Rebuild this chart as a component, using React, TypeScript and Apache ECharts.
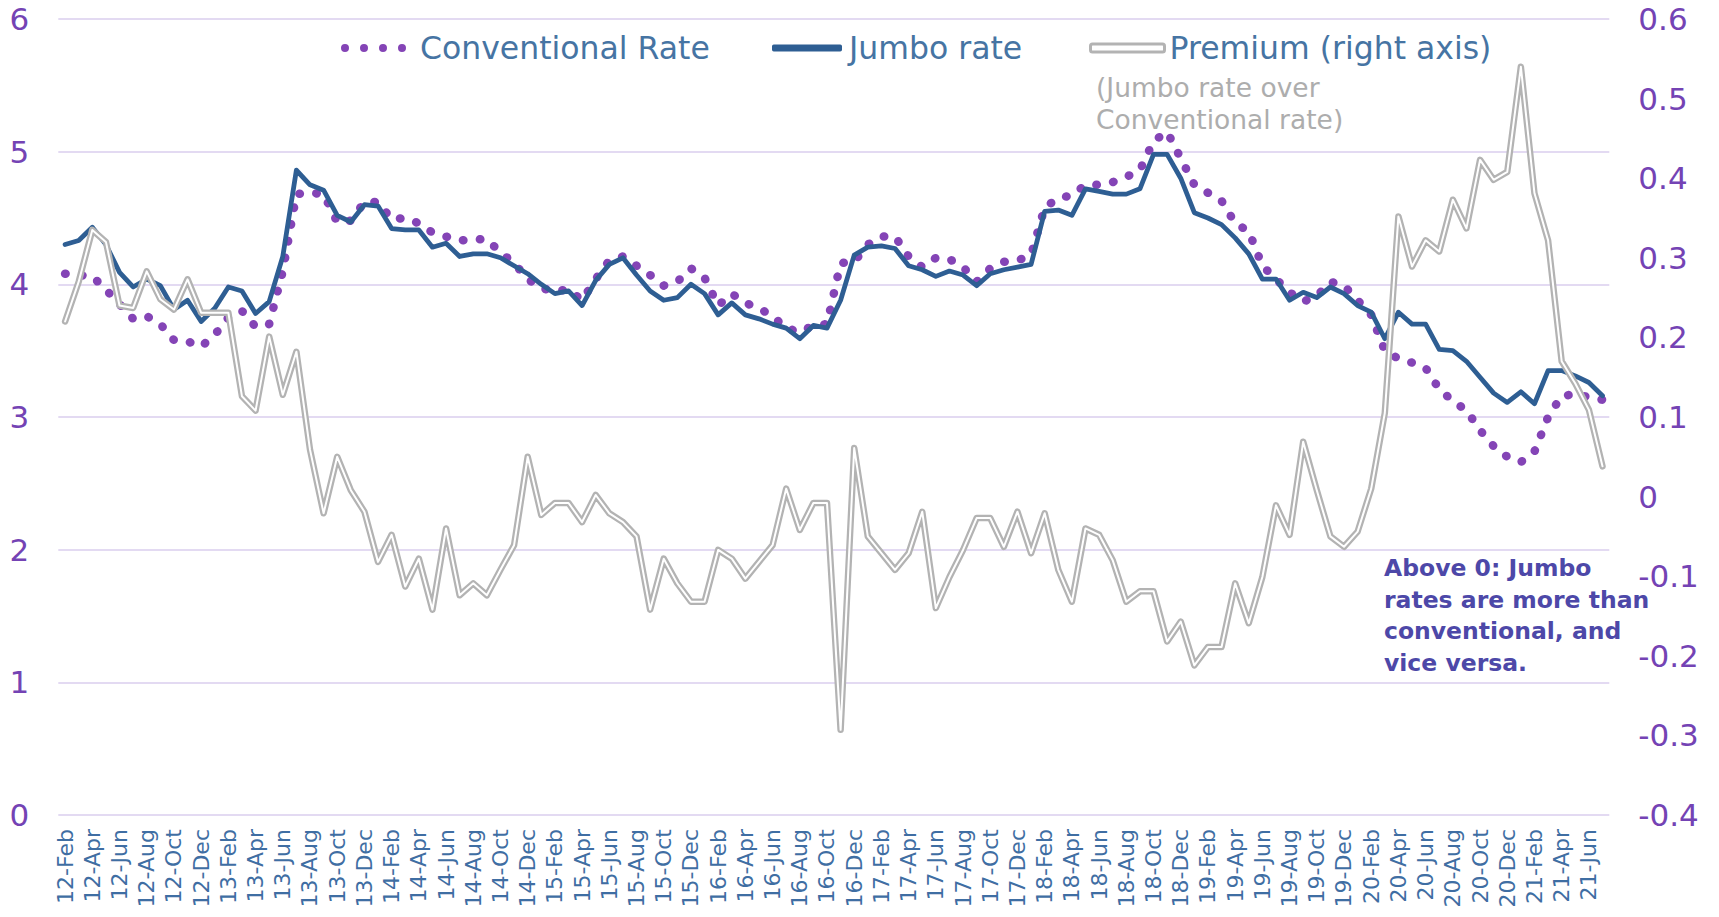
import { useEffect, useRef } from 'react';
import * as echarts from 'echarts';

const MONTH_NAMES = ['Jan', 'Feb', 'Mar', 'Apr', 'May', 'Jun', 'Jul', 'Aug', 'Sep', 'Oct', 'Nov', 'Dec'];
// Monthly categories, Feb 2012 .. Jul 2021 (labels shown as "YY-Mon")
const START_YEAR = 12;
const START_MONTH = 1; // Feb
const MONTH_COUNT = 114;
const CATEGORIES: string[] = Array.from({ length: MONTH_COUNT }, (_, i) => {
  const m = START_MONTH + i;
  return `${START_YEAR + Math.floor(m / 12)}-${MONTH_NAMES[m % 12]}`;
});

const CONVENTIONAL = [
  4.08, 4.07, 4.06, 3.96, 3.85, 3.74, 3.76, 3.70, 3.58, 3.57, 3.53, 3.62,
  3.75, 3.80, 3.68, 3.70, 4.10, 4.68, 4.69, 4.68, 4.47, 4.48, 4.62, 4.62,
  4.49, 4.50, 4.46, 4.39, 4.36, 4.33, 4.34, 4.34, 4.24, 4.16, 4.04, 3.97,
  3.95, 3.96, 3.88, 4.04, 4.18, 4.21, 4.14, 4.07, 3.99, 4.02, 4.12, 4.05,
  3.84, 3.93, 3.86, 3.82, 3.76, 3.67, 3.64, 3.69, 3.70, 4.16, 4.17, 4.30,
  4.36, 4.36, 4.21, 4.13, 4.20, 4.19, 4.13, 4.02, 4.12, 4.17, 4.18, 4.22,
  4.58, 4.65, 4.67, 4.75, 4.75, 4.77, 4.81, 4.86, 5.08, 5.15, 4.95, 4.75,
  4.69, 4.63, 4.46, 4.40, 4.14, 4.04, 3.94, 3.87, 3.91, 4.02, 3.99, 3.88,
  3.77, 3.50, 3.44, 3.41, 3.37, 3.21, 3.12, 3.05, 2.90, 2.78, 2.70, 2.66,
  2.74, 3.00, 3.16, 3.17, 3.15, 3.13,
];

const JUMBO = [
  4.30, 4.33, 4.43, 4.30, 4.09, 3.98, 4.04, 3.99, 3.81, 3.88, 3.72, 3.82,
  3.98, 3.95, 3.78, 3.87, 4.21, 4.86, 4.75, 4.71, 4.52, 4.47, 4.60, 4.59,
  4.42, 4.41, 4.41, 4.28, 4.31, 4.21, 4.23, 4.23, 4.20, 4.14, 4.08, 4.00,
  3.93, 3.95, 3.84, 4.03, 4.15, 4.20, 4.07, 3.95, 3.88, 3.90, 4.00, 3.93,
  3.77, 3.86, 3.77, 3.74, 3.70, 3.67, 3.59, 3.69, 3.67, 3.88, 4.22, 4.28,
  4.29, 4.27, 4.14, 4.11, 4.06, 4.10, 4.07, 3.99, 4.08, 4.11, 4.13, 4.15,
  4.55, 4.56, 4.52, 4.72, 4.70, 4.68, 4.68, 4.72, 4.98, 4.98, 4.80, 4.54,
  4.50, 4.45, 4.35, 4.23, 4.04, 4.04, 3.88, 3.94, 3.90, 3.98, 3.93, 3.84,
  3.79, 3.59, 3.79, 3.70, 3.70, 3.51, 3.50, 3.42, 3.30, 3.18, 3.11, 3.19,
  3.10, 3.35, 3.35, 3.31, 3.26, 3.16,
];

const PREMIUM = [
  0.220, 0.270, 0.335, 0.320, 0.240, 0.237, 0.283, 0.248, 0.235, 0.273, 0.231, 0.231,
  0.231, 0.126, 0.108, 0.201, 0.128, 0.182, 0.059, -0.021, 0.050, 0.008, -0.019, -0.082,
  -0.048, -0.113, -0.078, -0.142, -0.040, -0.124, -0.109, -0.124, -0.092, -0.061, 0.050, -0.023,
  -0.008, -0.008, -0.032, 0.002, -0.021, -0.032, -0.050, -0.142, -0.078, -0.109, -0.132, -0.132,
  -0.067, -0.078, -0.103, -0.082, -0.061, 0.010, -0.042, -0.008, -0.008, -0.293, 0.061, -0.050,
  -0.071, -0.092, -0.071, -0.019, -0.140, -0.101, -0.067, -0.027, -0.027, -0.063, -0.019, -0.071,
  -0.021, -0.092, -0.132, -0.040, -0.048, -0.080, -0.132, -0.119, -0.119, -0.182, -0.157, -0.212,
  -0.189, -0.189, -0.109, -0.159, -0.101, -0.011, -0.048, 0.069, 0.008, -0.050, -0.063, -0.044,
  0.010, 0.105, 0.352, 0.289, 0.322, 0.308, 0.373, 0.337, 0.423, 0.398, 0.408, 0.540,
  0.381, 0.322, 0.170, 0.142, 0.109, 0.038,
];

const LEFT_TICKS = { min: 0, max: 6, interval: 1 };
const RIGHT_TICKS = { min: -0.4, max: 0.6, interval: 0.1 };

const FONT = '"DejaVu Sans", sans-serif';
const PURPLE_DOT = '#8444B6';
const JUMBO_BLUE = '#2E5E93';
const PREMIUM_GRAY = '#B3B3B3';
const AXIS_PURPLE = '#7443B4';
const X_LABEL_BLUE = '#3F6EA3';
const LEGEND_BLUE = '#4674A3';
const GRID_LAVENDER = '#E3DAF2';

const DOTS_ICON =
  'path://M0,4a4,4 0 1,0 8,0a4,4 0 1,0 -8,0zM19,4a4,4 0 1,0 8,0a4,4 0 1,0 -8,0zM38,4a4,4 0 1,0 8,0a4,4 0 1,0 -8,0zM57,4a4,4 0 1,0 8,0a4,4 0 1,0 -8,0z';

export default function App() {
  const ref = useRef<HTMLDivElement>(null);

  useEffect(() => {
    if (!ref.current) return;
    const chart = echarts.init(ref.current, undefined, { renderer: 'svg' });
    const legendText = { fontFamily: FONT, fontSize: 31.5, color: LEGEND_BLUE };
    chart.setOption({
      animation: false,
      backgroundColor: '#ffffff',
      textStyle: { fontFamily: FONT },
      grid: { left: 58.3, right: 109.7, top: 19, bottom: 102, containLabel: false },
      legend: [
        {
          data: [{ name: 'Conventional Rate', icon: DOTS_ICON, itemStyle: { color: PURPLE_DOT, borderWidth: 0 } }],
          left: 341, top: 32, padding: 0, itemWidth: 65, itemHeight: 8, selectedMode: false,
          textStyle: { ...legendText, padding: [0, 0, 0, 9] },
        },
        {
          data: [{ name: 'Jumbo rate', icon: 'roundRect', itemStyle: { color: JUMBO_BLUE, borderWidth: 0 } }],
          left: 772, top: 32, padding: 0, itemWidth: 70, itemHeight: 7, selectedMode: false,
          textStyle: { ...legendText, padding: [0, 0, 0, 2] },
        },
        {
          data: [{ name: 'Premium (right axis)', icon: 'roundRect', itemStyle: { color: '#ffffff', borderColor: PREMIUM_GRAY, borderWidth: 3 } }],
          left: 1089, top: 32, padding: 0, itemWidth: 74, itemHeight: 8, selectedMode: false,
          textStyle: { ...legendText },
        },
      ],
      xAxis: {
        type: 'category',
        data: CATEGORIES,
        boundaryGap: true,
        axisLine: { show: false },
        axisTick: { show: false },
        axisLabel: { interval: 1, rotate: 90, fontSize: 22, color: X_LABEL_BLUE, margin: 14, fontFamily: FONT },
        splitLine: { show: false },
      },
      yAxis: [
        {
          type: 'value',
          ...LEFT_TICKS,
          axisLine: { show: false },
          axisTick: { show: false },
          axisLabel: { fontSize: 31, color: AXIS_PURPLE, margin: 29, fontFamily: FONT },
          splitLine: { show: true, lineStyle: { color: GRID_LAVENDER, width: 2 } },
        },
        {
          type: 'value',
          ...RIGHT_TICKS,
          position: 'right',
          axisLine: { show: false },
          axisTick: { show: false },
          axisLabel: {
            fontSize: 31, color: AXIS_PURPLE, margin: 29, fontFamily: FONT,
            formatter: (v: number) => String(Math.round(v * 10) / 10),
          },
          splitLine: { show: false },
        },
      ],
      series: [
        {
          name: 'Conventional Rate',
          type: 'line',
          data: CONVENTIONAL,
          yAxisIndex: 0,
          symbol: 'none',
          itemStyle: { color: PURPLE_DOT },
          lineStyle: { color: PURPLE_DOT, width: 8.5, type: [0.5, 16.5], cap: 'round', join: 'round' },
          z: 2,
        },
        {
          name: 'Jumbo rate',
          type: 'line',
          data: JUMBO,
          yAxisIndex: 0,
          symbol: 'none',
          itemStyle: { color: JUMBO_BLUE },
          lineStyle: { color: JUMBO_BLUE, width: 4.8, join: 'round', cap: 'round' },
          z: 3,
        },
        {
          name: 'Premium (right axis)',
          type: 'line',
          data: PREMIUM,
          yAxisIndex: 1,
          symbol: 'none',
          itemStyle: { color: PREMIUM_GRAY },
          lineStyle: { color: PREMIUM_GRAY, width: 6.5, join: 'round', cap: 'round' },
          z: 4,
        },
        {
          name: 'Premium inner',
          type: 'line',
          data: PREMIUM,
          yAxisIndex: 1,
          symbol: 'none',
          silent: true,
          itemStyle: { color: '#ffffff' },
          lineStyle: { color: '#ffffff', width: 2, join: 'round', cap: 'round' },
          z: 5,
        },
      ],
      graphic: [
        {
          type: 'text',
          x: 1096,
          y: 71,
          style: {
            text: '(Jumbo rate over\nConventional rate)',
            fontFamily: FONT,
            fontSize: 26.5,
            lineHeight: 32,
            fill: '#ADADAD',
          },
        },
        {
          type: 'text',
          x: 1384,
          y: 552,
          style: {
            text: 'Above 0: Jumbo\nrates are more than\nconventional, and\nvice versa.',
            fontFamily: FONT,
            fontSize: 23.5,
            fontWeight: 'bold',
            lineHeight: 31.7,
            fill: '#4D48A8',
          },
        },
      ],
    });
    return () => chart.dispose();
  }, []);

  return (
    <div
      ref={ref}
      style={{ position: 'fixed', left: 0, top: 0, width: 1719, height: 917, background: '#fff' }}
    />
  );
}
